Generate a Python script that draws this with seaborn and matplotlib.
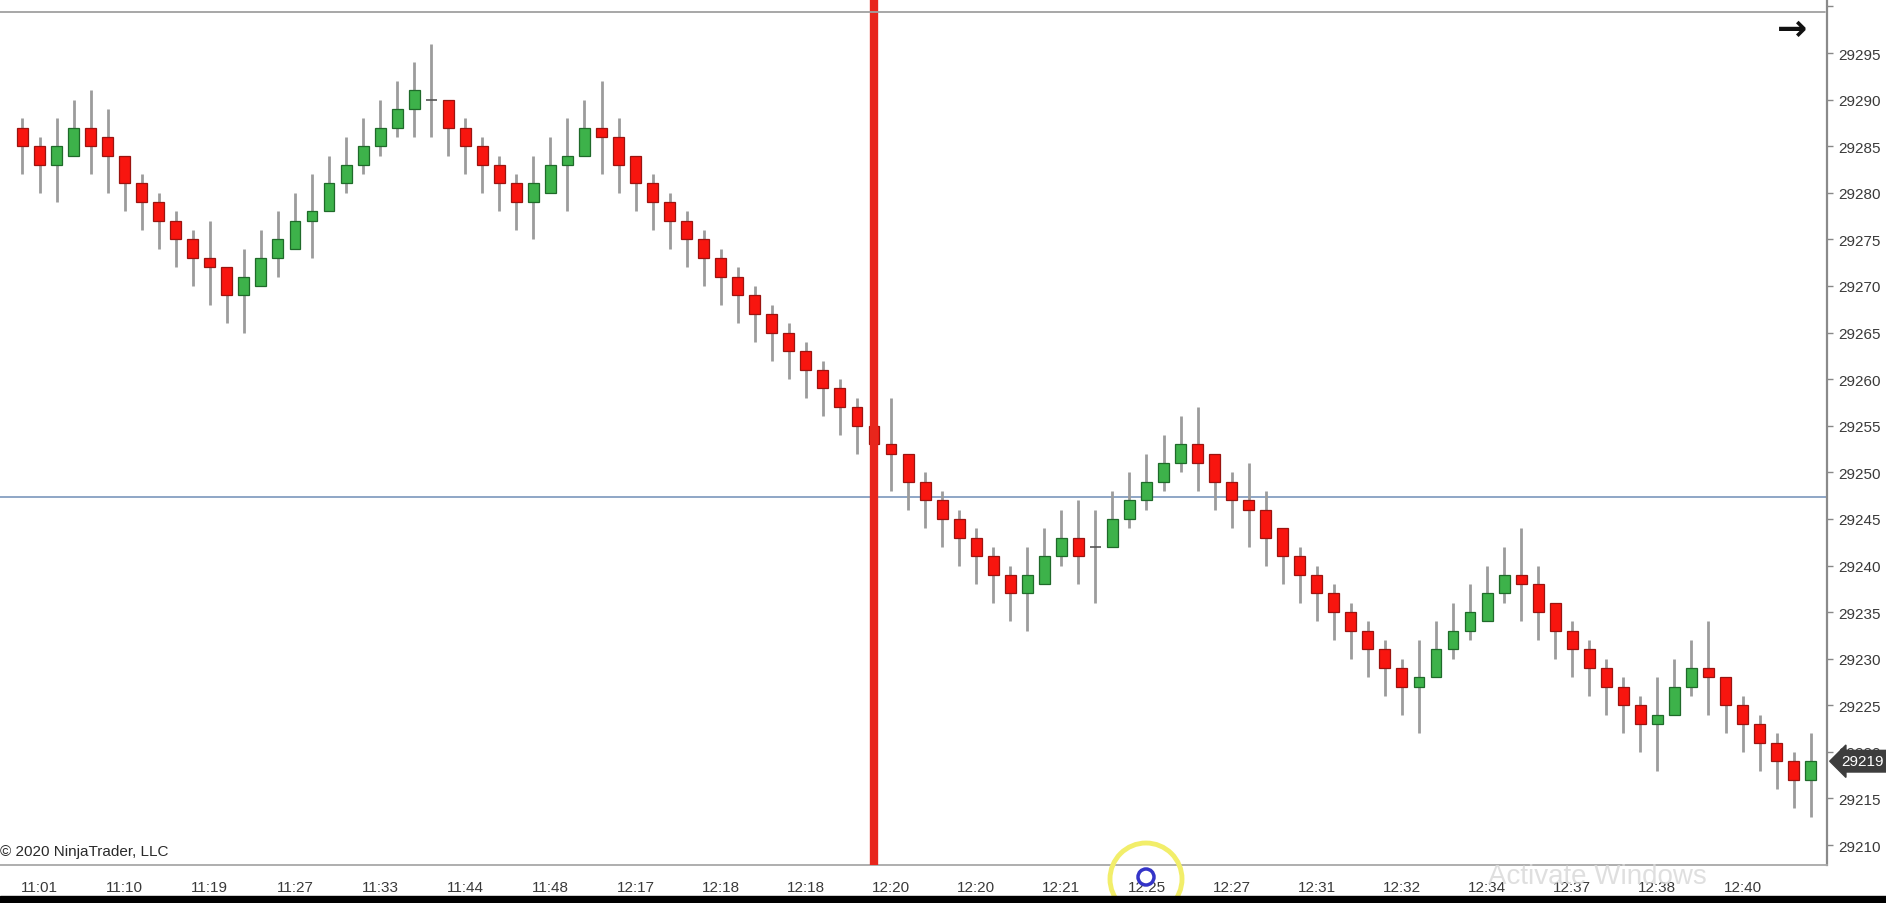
import matplotlib.pyplot as plt
import matplotlib.transforms as mtransforms
import numpy as np
import pandas as pd
import seaborn as sns
from matplotlib.lines import Line2D
from matplotlib.patches import Circle, Rectangle

# bar data (one entry per bar, left to right)
opens = [
    29287, 29285, 29283, 29284, 29287, 29286, 29284, 29281, 29279, 29277,
    29275, 29273, 29272, 29269, 29270, 29273, 29274, 29277, 29278, 29281,
    29283, 29285, 29287, 29289, 29290, 29290, 29287, 29285, 29283, 29281,
    29279, 29280, 29283, 29284, 29287, 29286, 29284, 29281, 29279, 29277,
    29275, 29273, 29271, 29269, 29267, 29265, 29263, 29261, 29259, 29257,
    29255, 29253, 29252, 29249, 29247, 29245, 29243, 29241, 29239, 29237,
    29238, 29241, 29243, 29242, 29242, 29245, 29247, 29249, 29251, 29253,
    29252, 29249, 29247, 29246, 29244, 29241, 29239, 29237, 29235, 29233,
    29231, 29229, 29227, 29228, 29231, 29233, 29234, 29237, 29239, 29238,
    29236, 29233, 29231, 29229, 29227, 29225, 29223, 29224, 29227, 29229,
    29228, 29225, 29223, 29221, 29219, 29217,
]
highs = [
    29288, 29286, 29288, 29290, 29291, 29289, 29284, 29282, 29280, 29278,
    29276, 29277, 29272, 29274, 29276, 29278, 29280, 29282, 29284, 29286,
    29288, 29290, 29292, 29294, 29296, 29290, 29288, 29286, 29284, 29282,
    29284, 29286, 29288, 29290, 29292, 29288, 29284, 29282, 29280, 29278,
    29276, 29274, 29272, 29270, 29268, 29266, 29264, 29262, 29260, 29258,
    29256, 29258, 29252, 29250, 29248, 29246, 29244, 29242, 29240, 29242,
    29244, 29246, 29247, 29246, 29248, 29250, 29252, 29254, 29256, 29257,
    29252, 29250, 29251, 29248, 29244, 29242, 29240, 29238, 29236, 29234,
    29232, 29230, 29232, 29234, 29236, 29238, 29240, 29242, 29244, 29240,
    29236, 29234, 29232, 29230, 29228, 29226, 29228, 29230, 29232, 29234,
    29228, 29226, 29224, 29222, 29220, 29222,
]
lows = [
    29282, 29280, 29279, 29284, 29282, 29280, 29278, 29276, 29274, 29272,
    29270, 29268, 29266, 29265, 29270, 29271, 29274, 29273, 29278, 29280,
    29282, 29284, 29286, 29286, 29286, 29284, 29282, 29280, 29278, 29276,
    29275, 29280, 29278, 29284, 29282, 29280, 29278, 29276, 29274, 29272,
    29270, 29268, 29266, 29264, 29262, 29260, 29258, 29256, 29254, 29252,
    29250, 29248, 29246, 29244, 29242, 29240, 29238, 29236, 29234, 29233,
    29238, 29240, 29238, 29236, 29242, 29244, 29246, 29248, 29250, 29248,
    29246, 29244, 29242, 29240, 29238, 29236, 29234, 29232, 29230, 29228,
    29226, 29224, 29222, 29228, 29230, 29232, 29234, 29236, 29234, 29232,
    29230, 29228, 29226, 29224, 29222, 29220, 29218, 29224, 29226, 29224,
    29222, 29220, 29218, 29216, 29214, 29213,
]
closes = [
    29285, 29283, 29285, 29287, 29285, 29284, 29281, 29279, 29277, 29275,
    29273, 29272, 29269, 29271, 29273, 29275, 29277, 29278, 29281, 29283,
    29285, 29287, 29289, 29291, 29290, 29287, 29285, 29283, 29281, 29279,
    29281, 29283, 29284, 29287, 29286, 29283, 29281, 29279, 29277, 29275,
    29273, 29271, 29269, 29267, 29265, 29263, 29261, 29259, 29257, 29255,
    29253, 29252, 29249, 29247, 29245, 29243, 29241, 29239, 29237, 29239,
    29241, 29243, 29241, 29242, 29245, 29247, 29249, 29251, 29253, 29251,
    29249, 29247, 29246, 29243, 29241, 29239, 29237, 29235, 29233, 29231,
    29229, 29227, 29228, 29231, 29233, 29235, 29237, 29239, 29238, 29235,
    29233, 29231, 29229, 29227, 29225, 29223, 29224, 29227, 29229, 29228,
    29225, 29223, 29221, 29219, 29217, 29219,
]

# time labels shown every 5th bar, starting at bar 1
time_labels = [
    "11:01", "11:10", "11:19", "11:27", "11:33", "11:44", "11:48", "12:17",
    "12:18", "12:18", "12:20", "12:20", "12:21", "12:25", "12:27", "12:31",
    "12:32", "12:34", "12:37", "12:38", "12:40",
]
price_ticks = list(range(29210, 29301, 5))

hline_price = 29247.4   # blue horizontal line
marker_bar = 50         # red vertical line
last_price = 29219

df = pd.DataFrame({"open": opens, "high": highs, "low": lows, "close": closes})
df["bar"] = np.arange(len(df))
df["up"] = df["close"] > df["open"]
df["doji"] = df["close"] == df["open"]
df["bottom"] = df[["open", "close"]].min(axis=1)
df["height"] = (df["close"] - df["open"]).abs()

sns.set_style("white")
plt.rcParams["font.family"] = ["Liberation Sans", "DejaVu Sans"]

W, H = 1886, 904
fig = plt.figure(figsize=(W / 100, H / 100), dpi=100)
ax = fig.add_axes([0, 38 / H, 1827 / W, 866 / H])

ax.set_xlim(-1.32, 105.96)
ax.set_ylim(29207.86, 29300.8)

# blue line behind candles
ax.axhline(hline_price, color="#8ea6c6", lw=1.4, zorder=1)

# wicks
ax.vlines(df["bar"], df["low"], df["high"], color="#9c9c9c", lw=2.0, zorder=2)

# bodies
up = df[df["up"]]
dn = df[~df["up"] & ~df["doji"]]
dj = df[df["doji"]]
ax.bar(up["bar"], up["height"], bottom=up["bottom"], width=0.64,
       color="#3db24a", edgecolor="#1f6a2a", linewidth=0.9, zorder=3)
ax.bar(dn["bar"], dn["height"], bottom=dn["bottom"], width=0.64,
       color="#f8150f", edgecolor="#9a1410", linewidth=0.9, zorder=3)
ax.hlines(dj["close"], dj["bar"] - 0.32, dj["bar"] + 0.32, color="#555555",
          lw=1.2, zorder=3)

# red vertical marker
ax.axvline(marker_bar, color="#e8261c", lw=6, zorder=4)

# axes
sns.despine(ax=ax, left=True, top=True, right=False, bottom=False)
ax.spines["bottom"].set_color("#a8a8a8")
ax.spines["bottom"].set_linewidth(1.3)
ax.spines["right"].set_color("#8a8a8a")
ax.spines["right"].set_linewidth(1.6)

ax.set_xticks(df["bar"].iloc[1::5])
ax.set_xticklabels(time_labels)
ax.yaxis.tick_right()
ax.set_yticks(price_ticks)
ax.set_yticklabels([str(p) if p < 29300 else "" for p in price_ticks])
ax.tick_params(axis="x", length=4, width=1, color="#888888", pad=7,
               labelsize=11, labelcolor="#3a3a3a")
ax.tick_params(axis="y", length=4, width=1, color="#888888", pad=4,
               labelsize=11, labelcolor="#3a3a3a")
ax.grid(False)

# last price tag
tr = mtransforms.blended_transform_factory(ax.transAxes, ax.transData)
ax.text(1.008, last_price, str(last_price), transform=tr, ha="left", va="center",
        color="white", fontsize=11, zorder=6, clip_on=False,
        bbox=dict(boxstyle="larrow,pad=0.25", fc="#3d3d3d", ec="#3d3d3d"))

ax.text(0.0, 0.008, "\u00a9 2020 NinjaTrader, LLC", transform=ax.transAxes,
        fontsize=11, color="#2a2a2a", ha="left", va="bottom")

# window decorations
fig.add_artist(Line2D([0, 1825 / W], [1 - 13 / H, 1 - 13 / H],
                      color="#a0a0a0", lw=1.3))
fig.text(1792 / W, 1 - 30 / H, "\u2192", fontsize=26, fontweight="bold",
         color="#111111", ha="center", va="center", family="DejaVu Sans")
fig.text(1597 / W, 1 - 877 / H, "Activate Windows", fontsize=20,
         color="#dadada", alpha=0.85, ha="center", va="center")
fig.add_artist(Rectangle((0, 0), 1, 7 / H, transform=fig.transFigure,
                         color="black", zorder=10))

# cursor highlight (circle in pixel space)
ring = Circle((1146, H - 880), 36, transform=None, fill=False,
              ec="#f2ee6a", lw=3.5, zorder=9)
fig.add_artist(ring)
cur = Circle((1146, H - 878), 8, transform=None, fill=False,
             ec="#3434c8", lw=2.5, zorder=9)
fig.add_artist(cur)

fig.savefig("out.png", dpi=100)
